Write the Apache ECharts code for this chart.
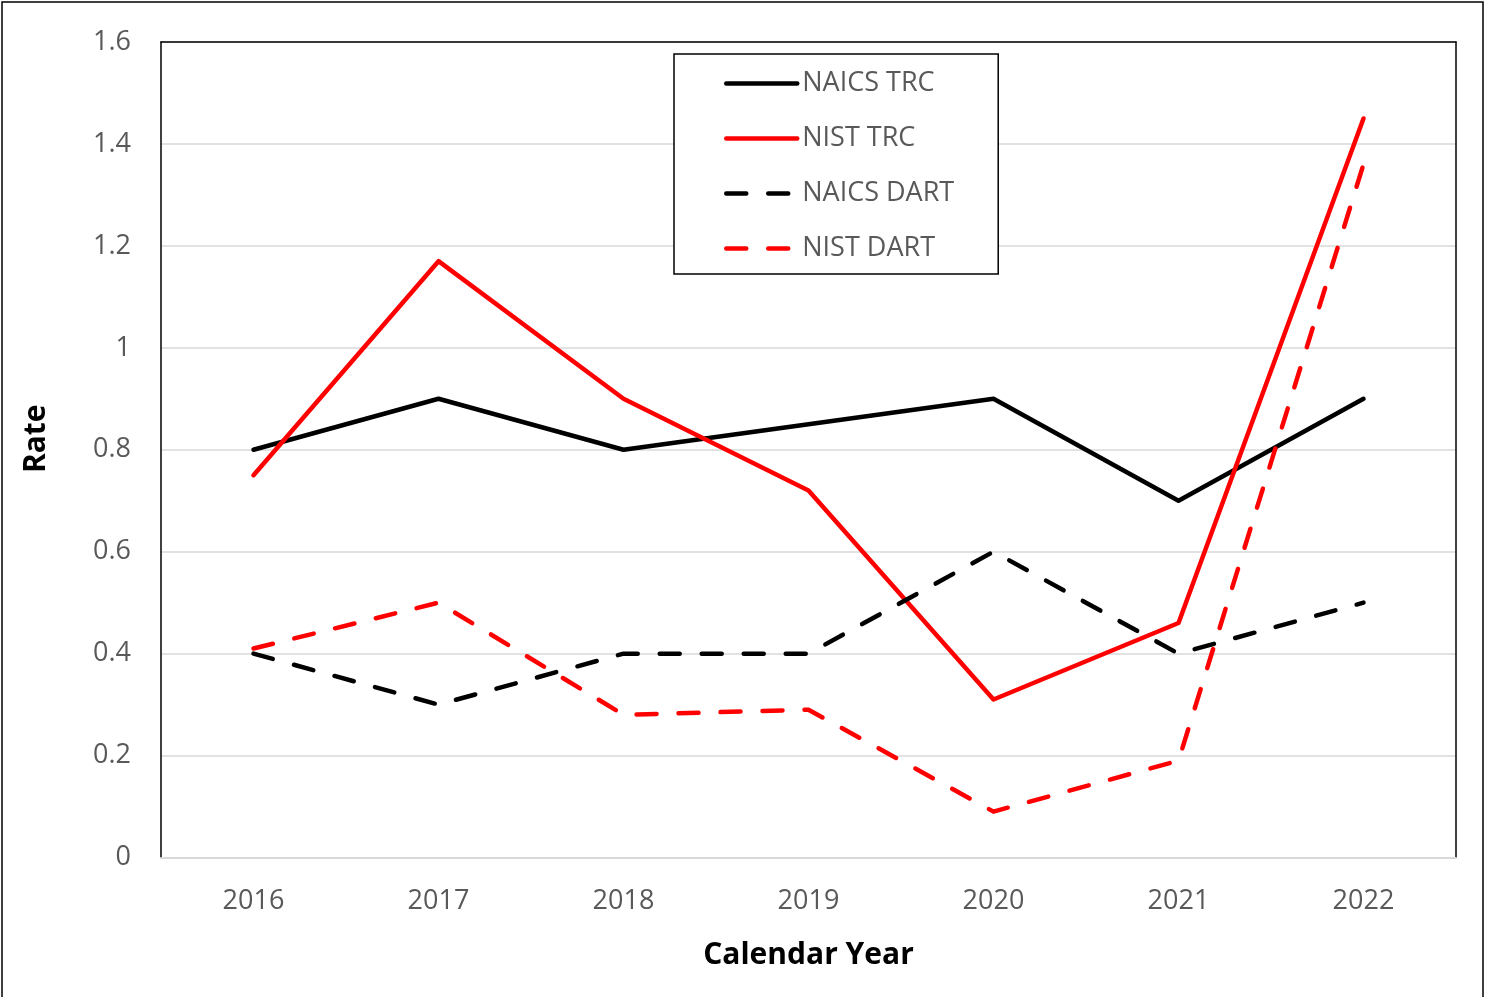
<!DOCTYPE html>
<html>
<head>
<meta charset="utf-8">
<script src="https://cdn.jsdelivr.net/npm/echarts@6/dist/echarts.min.js"></script>
<style>
html,body{margin:0;padding:0;background:#fff;}
#chart{width:1485px;height:997px;}
</style>
</head>
<body>
<div id="chart"></div>
<script>
const categories = ['2016', '2017', '2018', '2019', '2020', '2021', '2022'];
const naicsTrc = [0.8, 0.9, 0.8, 0.85, 0.9, 0.7, 0.9];
const nistTrc = [0.75, 1.17, 0.9, 0.72, 0.31, 0.46, 1.45];
const naicsDart = [0.4, 0.3, 0.4, 0.4, 0.6, 0.4, 0.5];
const nistDart = [0.41, 0.5, 0.28, 0.29, 0.09, 0.19, 1.36];

const FONT = '"Open Sans", "Noto Sans", sans-serif';
const chart = echarts.init(document.getElementById('chart'), null, {renderer: 'canvas'});

function lineSeries(name, data, color, dashed) {
  return {
    name: name,
    type: 'line',
    data: data,
    xAxisIndex: 0,
    yAxisIndex: 0,
    symbol: 'none',
    showSymbol: false,
    legendIcon: 'none',
    lineStyle: {
      color: color,
      width: 4.5,
      type: dashed ? [20, 22] : 'solid',
      cap: 'round',
      join: 'round'
    },
    itemStyle: {color: color},
    emphasis: {disabled: true},
    z: 15
  };
}

chart.setOption({
  animation: false,
  backgroundColor: '#fff',
  graphic: [{
    type: 'rect',
    shape: {x: 2, y: 2, width: 1481, height: 1005},
    style: {fill: 'none', stroke: '#000', lineWidth: 1.5},
    silent: true
  }],
  grid: {
    left: 161, top: 42, right: 29, bottom: 139.5,
    show: false,
    containLabel: false
  },
  legend: {
    orient: 'vertical',
    left: 674, top: 54,
    padding: [16, 44, 12, 50],
    backgroundColor: '#fff',
    borderColor: '#000', borderWidth: 1.5,
    itemWidth: 71, itemHeight: 20, itemGap: 28,
    itemStyle: {opacity: 0},
    lineStyle: {width: 4.5, cap: 'round'},
    textStyle: {fontFamily: FONT, fontSize: 27, color: '#595959'},
    data: ['NAICS TRC', 'NIST TRC', 'NAICS DART', 'NIST DART'],
    z: 20
  },
  xAxis: [{
    type: 'category',
    data: categories,
    boundaryGap: true,
    name: 'Calendar Year',
    nameLocation: 'middle',
    nameGap: 83,
    nameTextStyle: {fontFamily: FONT, fontSize: 30, fontWeight: 'bold', color: '#000'},
    axisLine: {show: true, lineStyle: {color: '#d9d9d9', width: 2}},
    axisTick: {show: false},
    axisLabel: {fontFamily: FONT, fontSize: 27, color: '#595959', margin: 30},
    splitLine: {show: false},
    z: 10
  }, {
    type: 'category',
    data: categories,
    position: 'top',
    boundaryGap: true,
    axisLine: {show: true, onZero: false, lineStyle: {color: '#000', width: 1.5}},
    axisTick: {show: false},
    axisLabel: {show: false},
    splitLine: {show: false},
    z: 10
  }],
  yAxis: [{
    type: 'value',
    min: 0, max: 1.6, interval: 0.2,
    name: 'Rate',
    nameLocation: 'middle',
    nameGap: 110,
    nameRotate: 90,
    nameTextStyle: {fontFamily: FONT, fontSize: 30, fontWeight: 'bold', color: '#000', padding: [0, 0, 0, 22]},
    axisLine: {show: true, onZero: false, lineStyle: {color: '#000', width: 1.5}},
    axisTick: {show: false},
    axisLabel: {fontFamily: FONT, fontSize: 27, color: '#595959', margin: 30},
    splitLine: {show: true, lineStyle: {color: '#d9d9d9', width: 1.5}},
    z: 10
  }, {
    type: 'value',
    min: 0, max: 1.6, interval: 0.2,
    position: 'right',
    axisLine: {show: true, onZero: false, lineStyle: {color: '#000', width: 1.5}},
    axisTick: {show: false},
    axisLabel: {show: false},
    splitLine: {show: false},
    z: 10
  }],
  series: [
    lineSeries('NAICS TRC', naicsTrc, '#000000', false),
    lineSeries('NIST TRC', nistTrc, '#ff0000', false),
    lineSeries('NAICS DART', naicsDart, '#000000', true),
    lineSeries('NIST DART', nistDart, '#ff0000', true)
  ]
});
</script>
</body>
</html>
